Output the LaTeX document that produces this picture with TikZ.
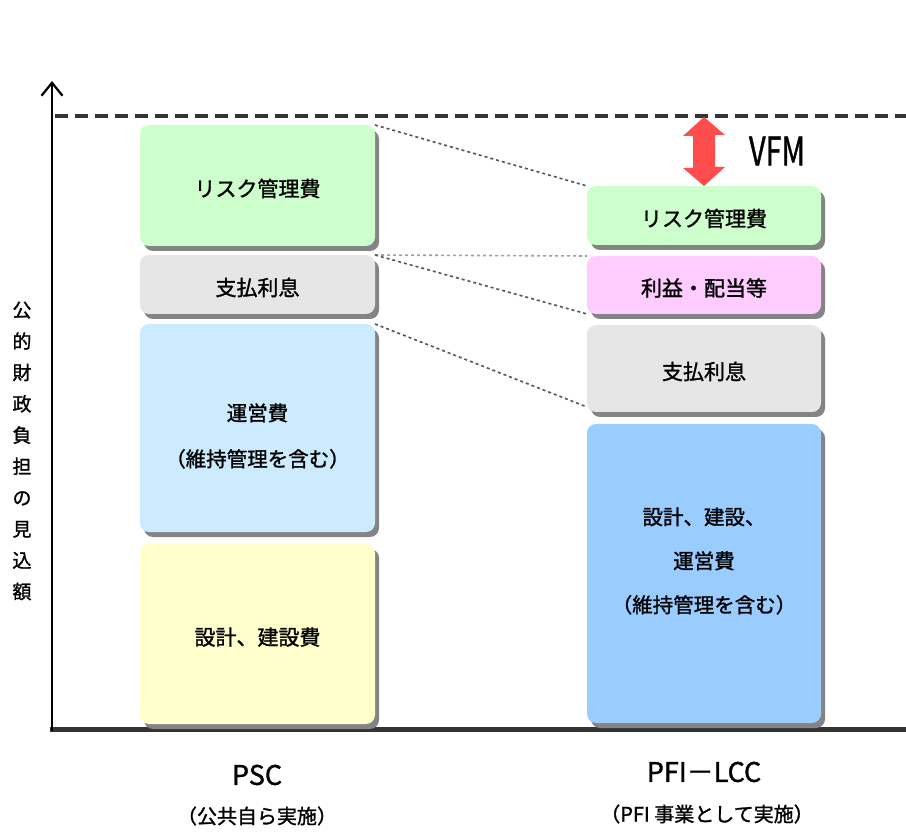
\documentclass[tikz,border=0pt]{standalone}
\usepackage{fontspec}
\setmainfont{Noto Sans CJK JP}[FakeBold=1.3]
\usetikzlibrary{arrows.meta,shadows}
\definecolor{cgreen}{HTML}{CCFFCC}
\definecolor{cgray}{HTML}{E6E6E6}
\definecolor{clblue}{HTML}{CCEBFF}
\definecolor{cyellow}{HTML}{FFFFCC}
\definecolor{cpink}{HTML}{FFCCFF}
\definecolor{cblue}{HTML}{99CCFF}
\definecolor{shadowgray}{HTML}{848484}
\definecolor{axisgray}{HTML}{333333}
\definecolor{vfmred}{HTML}{FF4D4D}
\definecolor{conngray}{HTML}{555555}
\definecolor{connlight}{HTML}{A0A0A0}
\begin{document}
\begin{tikzpicture}[x=1pt,y=-1pt,
  box/.style={rectangle, rounded corners=9pt, minimum width=235pt, outer sep=0pt, inner sep=0pt,
    align=center, font=\fontsize{21}{44}\selectfont, text height=25pt, text depth=3pt,
    drop shadow={shadow xshift=4pt, shadow yshift=-5pt, fill=shadowgray, opacity=1}},
  lbl/.style={align=center, inner sep=0pt, font=\fontsize{20.5}{46}\selectfont},
  conn/.style={line width=1.6pt, color=conngray, dash pattern=on 3pt off 3pt},
  connh/.style={line width=1.6pt, color=connlight, dash pattern=on 3pt off 3pt},
  axislabel/.style={align=center, inner sep=0pt},
]
\useasboundingbox (0,0) rectangle (906,834);

% axes
\coordinate (o) at (52,731);
\coordinate (ytop) at (52,81);
\coordinate (xs) at (50,729);
\coordinate (xe) at (906,729);
\coordinate (dl) at (55,116);
\coordinate (dr) at (906,116);
\draw[line width=5pt, axisgray] (xs) -- (xe);
\draw[line width=4pt, axisgray, dash pattern=on 13pt off 7pt] (dl) -- (dr);
\draw[line width=2.2pt, -{Straight Barb[length=13pt,width=21pt]}] (o) -- (ytop);

% left column (PSC)
\node[box, fill=cgreen, minimum height=121pt] (lrisk) at (257.5,185.5) {リスク管理費};
\node[box, fill=cgray, minimum height=59pt] (lint) at (257.5,284.5) {支払利息};
\node[box, fill=clblue, minimum height=208pt] (lop) at (257.5,428) {};
\node[lbl] (lopt) at (257.5,436) {運営費\\（維持管理を含む）};
\node[box, fill=cyellow, minimum height=180pt] (lcon) at (257.5,634) {設計、建設費};

% right column (PFI-LCC)
\node[box, fill=cgreen, minimum height=59pt, minimum width=234pt] (rrisk) at (704,215.5) {リスク管理費};
\node[box, fill=cpink, minimum height=58pt, minimum width=234pt] (rprof) at (704,285) {利益・配当等};
\node[box, fill=cgray, minimum height=87pt, minimum width=234pt] (rint) at (704,368.5) {支払利息};
\node[box, fill=cblue, minimum height=299pt, minimum width=234pt] (rall) at (704,573.5) {};
\node[lbl, font=\fontsize{20.5}{44}\selectfont] (rallt) at (704,561) {設計、建設、\\運営費\\（維持管理を含む）};

% connectors
\draw[conn] (lrisk.north east) -- (rrisk.north west);
\draw[connh] (lint.north east) -- (rprof.north west);
\draw[conn] (lint.north east) -- (rprof.south west);
\draw[conn] (lop.north east) -- ([yshift=5pt]rint.south west);

% VFM arrow
\coordinate (vt) at (704,117);
\fill[vfmred] (vt) -- ++(21,18) -- ++(-10,0) -- ++(0,32) -- ++(10,0) -- (rrisk.north)
  -- ++(-21,-18) -- ++(10,0) -- ++(0,-32) -- ++(-10,0) -- cycle;
\node[inner sep=0pt, font=\fontsize{39}{40}\selectfont] (vfm) at (777,151) {\scalebox{0.74}[1]{VFM}};

% axis labels
\node[axislabel, font=\fontsize{19}{31.3}\selectfont] (ylab) at (22,451)
  {公\\的\\財\\政\\負\\担\\の\\見\\込\\額};
\node[axislabel, font=\fontsize{27}{30}\selectfont] (psc) at (257,775) {PSC};
\node[axislabel, font=\fontsize{20}{24}\selectfont] (psc2) at (257,816) {（公共自ら実施）};
\node[axislabel, font=\fontsize{27}{30}\selectfont] (pfi) at (704,772) {PFI－LCC};
\node[axislabel, font=\fontsize{20}{24}\selectfont] (pfi2) at (707,814) {（PFI 事業として実施）};
\end{tikzpicture}
\end{document}
